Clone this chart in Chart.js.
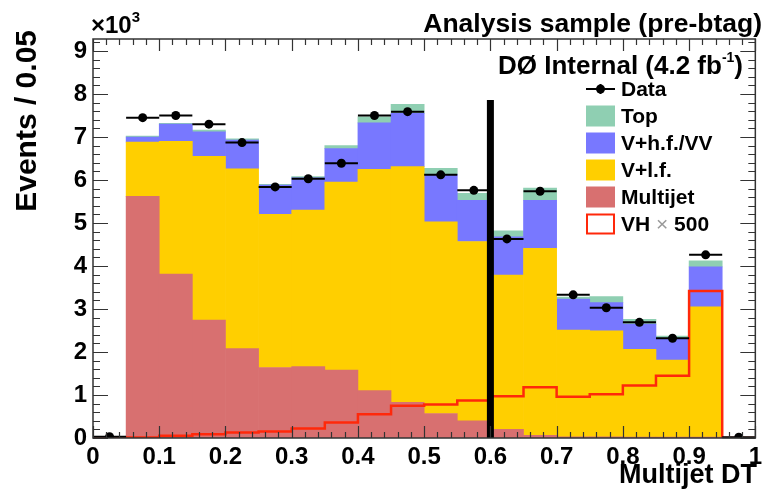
<!DOCTYPE html>
<html>
<head>
<meta charset="utf-8">
<script src="https://cdn.jsdelivr.net/npm/chart.js@4.4.0/dist/chart.umd.min.js"></script>
<style>
  body { margin: 0; background: #fff; }
</style>
</head>
<body>
<canvas id="grafico" width="767" height="494"></canvas>
<script>
// Bins de Multijet DT (largura 0.05)
const bordas = [0, 0.05, 0.1, 0.15, 0.2, 0.25, 0.3, 0.35, 0.4, 0.45, 0.5,
                0.55, 0.6, 0.65, 0.7, 0.75, 0.8, 0.85, 0.9, 0.95, 1];
const centros = [0.025, 0.075, 0.125, 0.175, 0.225, 0.275, 0.325, 0.375, 0.425, 0.475,
                 0.525, 0.575, 0.625, 0.675, 0.725, 0.775, 0.825, 0.875, 0.925, 0.975];

// Eventos (x10^3) por bin
const multijet = [0, 5.62, 3.81, 2.74, 2.08, 1.64, 1.66, 1.58, 1.10, 0.83, 0.57, 0.40, 0.20, 0.06, 0.03, 0.03, 0.02, 0.02, 0.02, 0];
const vlf      = [0, 1.26, 3.09, 3.81, 4.18, 3.56, 3.64, 4.37, 5.15, 5.48, 4.46, 4.17, 3.59, 4.35, 2.48, 2.46, 2.04, 1.79, 3.03, 0];
const vhf      = [0, 0.12, 0.40, 0.57, 0.67, 0.68, 0.75, 0.78, 1.08, 1.24, 1.10, 0.96, 0.89, 1.12, 0.72, 0.66, 0.59, 0.51, 0.93, 0];
const top_     = [0, 0.02, 0.02, 0.04, 0.03, 0.02, 0.03, 0.07, 0.14, 0.21, 0.14, 0.16, 0.14, 0.28, 0.05, 0.14, 0.11, 0.05, 0.14, 0];
const dados    = [0.03, 7.45, 7.50, 7.30, 6.87, 5.84, 6.03, 6.39, 7.50, 7.59, 6.12, 5.76, 4.63, 5.74, 3.33, 3.03, 2.69, 2.32, 4.26, 0.02];
const vh500    = [0.01, 0.01, 0.05, 0.09, 0.13, 0.15, 0.22, 0.36, 0.55, 0.75, 0.78, 0.87, 0.97, 1.18, 0.96, 1.02, 1.22, 1.45, 3.42, 0];

// linha de corte
const corteX = 0.6;
const corteTopo = 7.86;

const yMax = 9.28;
const FONTE = '"Liberation Sans", Arial, Helvetica, sans-serif';

const corTop = 'rgb(143,207,178)';
const corHF = 'rgb(120,120,255)';
const corLF = 'rgb(255,207,0)';
const corMJ = 'rgb(216,112,112)';
const corVH = 'rgb(255,40,10)';

function pontos(valores) {
    return valores.map((v, i) => ({ x: centros[i], y: v }));
}

const pontosVH = vh500.map((v, i) => ({ x: bordas[i], y: v }));
pontosVH.push({ x: bordas[bordas.length - 1], y: vh500[vh500.length - 1] });

const legenda = [
    { texto: 'Data', tipo: 'ponto' },
    { texto: 'Top', tipo: 'caixa', cor: corTop },
    { texto: 'V+h.f./VV', tipo: 'caixa', cor: corHF },
    { texto: 'V+l.f.', tipo: 'caixa', cor: corLF },
    { texto: 'Multijet', tipo: 'caixa', cor: corMJ },
    { texto: 'VH', tipo: 'linha', cor: corVH }
];

// desenha moldura, ticks internos, barras de erro e textos
const moldura = {
    id: 'moldura',
    afterDatasetsDraw(chart) {
        const ctx = chart.ctx;
        const sx = chart.scales.x;
        const sy = chart.scales.y2;
        ctx.save();
        ctx.strokeStyle = '#000';
        ctx.lineWidth = 2;
        for (let i = 0; i < dados.length; i++) {
            const y = sy.getPixelForValue(dados[i]);
            ctx.beginPath();
            ctx.moveTo(sx.getPixelForValue(bordas[i]), y);
            ctx.lineTo(sx.getPixelForValue(bordas[i + 1]), y);
            ctx.stroke();
        }
        ctx.restore();
    },
    afterDraw(chart) {
        const ctx = chart.ctx;
        const a = chart.chartArea;
        const sx = chart.scales.x;
        const sy = chart.scales.y;
        ctx.save();
        ctx.strokeStyle = '#333';
        ctx.lineWidth = 1.2;
        ctx.beginPath();
        for (let k = 0; k <= 50; k++) {
            const px = Math.round(sx.getPixelForValue(k / 50)) + 0.5;
            const len = (k % 5 === 0) ? 12 : 6;
            ctx.moveTo(px, a.bottom); ctx.lineTo(px, a.bottom - len);
            ctx.moveTo(px, a.top); ctx.lineTo(px, a.top + len);
        }
        for (let k = 0; k <= 46; k++) {
            const v = k / 5;
            if (v > yMax) break;
            const py = Math.round(sy.getPixelForValue(v)) + 0.5;
            const len = (k % 5 === 0) ? 15 : 7;
            ctx.moveTo(a.left, py); ctx.lineTo(a.left + len, py);
            ctx.moveTo(a.right, py); ctx.lineTo(a.right - len, py);
        }
        ctx.stroke();
        ctx.lineWidth = 1.5;
        ctx.strokeRect(a.left, a.top, a.right - a.left, a.bottom - a.top);

        // textos
        ctx.fillStyle = '#000';
        ctx.textBaseline = 'alphabetic';
        ctx.font = 'bold 26.5px ' + FONTE;
        ctx.textAlign = 'right';
        ctx.fillText('Analysis sample (pre-btag)', 762, 32);

        // DØ Internal (4.2 fb-1)
        ctx.font = 'bold 26px ' + FONTE;
        const fimTxt = ')';
        const wFim = ctx.measureText(fimTxt).width;
        ctx.fillText(fimTxt, 743, 74);
        ctx.font = 'bold 14px ' + FONTE;
        const wSup = ctx.measureText('-1').width;
        ctx.fillText('-1', 743 - wFim, 62);
        ctx.font = 'bold 26px ' + FONTE;
        ctx.fillText('DØ Internal (4.2 fb', 743 - wFim - wSup, 74);

        ctx.textAlign = 'right';
        ctx.font = 'bold 27px ' + FONTE;
        ctx.fillText('Multijet DT', 757, 483);

        ctx.textAlign = 'left';
        ctx.font = 'bold 24px ' + FONTE;
        ctx.fillText('×10', 91, 33);
        const w10 = ctx.measureText('×10').width;
        ctx.font = 'bold 15px ' + FONTE;
        ctx.fillText('3', 91 + w10, 22);

        ctx.save();
        ctx.translate(36, 30);
        ctx.rotate(-Math.PI / 2);
        ctx.textAlign = 'right';
        ctx.font = 'bold 30px ' + FONTE;
        ctx.fillText('Events / 0.05', 0, 0);
        ctx.restore();

        // legenda
        const x0 = 586, larg = 29, alt = 21;
        legenda.forEach((item, i) => {
            const yc = 89 + i * 27;
            if (item.tipo === 'ponto') {
                ctx.strokeStyle = '#000';
                ctx.lineWidth = 2;
                ctx.beginPath();
                ctx.moveTo(x0, yc); ctx.lineTo(x0 + larg, yc);
                ctx.moveTo(x0 + larg / 2, yc - 5); ctx.lineTo(x0 + larg / 2, yc + 5);
                ctx.stroke();
                ctx.beginPath();
                ctx.arc(x0 + larg / 2, yc, 4.5, 0, Math.PI * 2);
                ctx.fillStyle = '#000';
                ctx.fill();
            } else if (item.tipo === 'caixa') {
                ctx.fillStyle = item.cor;
                ctx.fillRect(x0, yc - alt / 2, larg, alt);
            } else {
                ctx.strokeStyle = item.cor;
                ctx.lineWidth = 2;
                ctx.strokeRect(x0 + 1, yc - alt / 2 + 1, larg - 2, alt - 2);
            }
            ctx.fillStyle = '#000';
            ctx.textAlign = 'left';
            ctx.textBaseline = 'middle';
            ctx.font = 'bold 21px ' + FONTE;
            ctx.fillText(item.texto, x0 + larg + 6, yc + 1);
            if (item.tipo === 'linha') {
                let xt = x0 + larg + 6 + ctx.measureText(item.texto + ' ').width;
                ctx.font = '21px ' + FONTE;
                ctx.fillStyle = '#999';
                ctx.fillText('×', xt, yc + 1);
                xt += ctx.measureText('× ').width;
                ctx.font = 'bold 21px ' + FONTE;
                ctx.fillStyle = '#000';
                ctx.fillText('500', xt, yc + 1);
            }
        });
        ctx.restore();
    }
};

const ctx = document.getElementById('grafico');

new Chart(ctx, {
    type: 'bar',
    data: {
        datasets: [
            {
                type: 'line', label: 'Data', data: pontos(dados), yAxisID: 'y2',
                showLine: false, pointRadius: 4.5, pointBackgroundColor: '#000',
                pointBorderWidth: 0, order: 0
            },
            {
                type: 'line', label: 'corte',
                data: [{ x: corteX, y: 0 }, { x: corteX, y: corteTopo }], yAxisID: 'y2',
                borderColor: '#000', borderWidth: 7, pointRadius: 0, order: 1
            },
            {
                type: 'line', label: 'VH x 500', data: pontosVH, yAxisID: 'y2',
                stepped: 'before', borderColor: corVH, borderWidth: 2.5,
                pointRadius: 0, fill: false, order: 2
            },
            { label: 'Multijet', data: pontos(multijet), backgroundColor: corMJ, stack: 'fundo', order: 3 },
            { label: 'V+l.f.', data: pontos(vlf), backgroundColor: corLF, stack: 'fundo', order: 3 },
            { label: 'V+h.f./VV', data: pontos(vhf), backgroundColor: corHF, stack: 'fundo', order: 3 },
            { label: 'Top', data: pontos(top_), backgroundColor: corTop, stack: 'fundo', order: 3 }
        ]
    },
    options: {
        responsive: false,
        animation: false,
        layout: { padding: { top: 39, right: 7, left: 0, bottom: 0 } },
        plugins: {
            legend: { display: false },
            tooltip: { enabled: false }
        },
        datasets: {
            bar: { barPercentage: 1, categoryPercentage: 1, borderWidth: 0 }
        },
        scales: {
            x: {
                type: 'linear', min: 0, max: 1, offset: false,
                grid: { display: false, drawTicks: false },
                border: { display: false },
                ticks: {
                    stepSize: 0.1, padding: 5, color: '#000', maxRotation: 0, autoSkip: false,
                    font: { family: FONTE, size: 24, weight: 'bold' },
                    callback: v => String(Number(v.toFixed(1)))
                },
                afterFit: s => { s.height = 56; }
            },
            y: {
                stacked: true, min: 0, max: yMax,
                grid: { display: false, drawTicks: false },
                border: { display: false },
                ticks: {
                    stepSize: 1, padding: 6, color: '#000', includeBounds: false,
                    font: { family: FONTE, size: 24, weight: 'bold' }
                },
                afterFit: s => { s.width = 93; }
            },
            y2: { display: false, min: 0, max: yMax }
        }
    },
    plugins: [moldura]
});
</script>
</body>
</html>
